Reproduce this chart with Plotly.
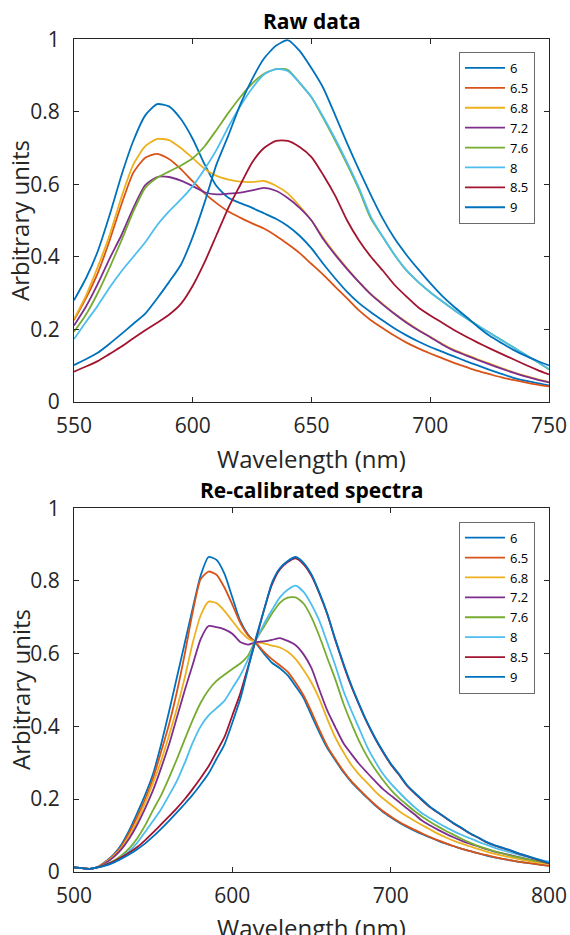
import plotly.graph_objects as go

# Wavelength grids (nm)
raw_wavelength = list(range(550, 751, 5))
cal_wavelength = list(range(500, 801, 5))

ph_labels = ["6", "6.5", "6.8", "7.2", "7.6", "8", "8.5", "9"]
ph_colors = ["#0072BD", "#D95319", "#EDB120", "#7E2F8E",
             "#77AC30", "#4DBEEE", "#A2142F", "#0072BD"]

# Raw spectra, 550-750 nm in 5 nm steps
raw_6 = [0.280, 0.340, 0.415, 0.515, 0.625, 0.720, 0.790, 0.821, 0.815, 0.780,
         0.725, 0.655, 0.595, 0.563, 0.548, 0.535, 0.520, 0.505, 0.485, 0.458,
         0.423, 0.380, 0.340, 0.303, 0.272, 0.247, 0.224, 0.202, 0.183, 0.166,
         0.151, 0.138, 0.125, 0.112, 0.100, 0.088, 0.077, 0.066, 0.058, 0.051,
         0.045]
raw_6_5 = [0.225, 0.285, 0.355, 0.445, 0.545, 0.632, 0.673, 0.684, 0.670, 0.642,
           0.608, 0.575, 0.548, 0.525, 0.508, 0.492, 0.478, 0.458, 0.435, 0.410,
           0.380, 0.350, 0.317, 0.285, 0.252, 0.225, 0.203, 0.182, 0.163, 0.147,
           0.133, 0.120, 0.107, 0.096, 0.085, 0.076, 0.067, 0.060, 0.053, 0.047,
           0.042]
raw_6_8 = [0.228, 0.292, 0.372, 0.460, 0.565, 0.655, 0.705, 0.725, 0.722, 0.700,
           0.672, 0.643, 0.623, 0.613, 0.607, 0.606, 0.609, 0.596, 0.575, 0.540,
           0.500, 0.452, 0.408, 0.368, 0.330, 0.297, 0.270, 0.243, 0.220, 0.198,
           0.179, 0.160, 0.143, 0.130, 0.117, 0.105, 0.093, 0.081, 0.071, 0.062,
           0.054]
raw_7_2 = [0.210, 0.262, 0.325, 0.395, 0.460, 0.535, 0.598, 0.620, 0.620, 0.610,
           0.595, 0.578, 0.572, 0.574, 0.577, 0.583, 0.590, 0.582, 0.562, 0.535,
           0.500, 0.448, 0.405, 0.366, 0.330, 0.296, 0.268, 0.242, 0.218, 0.197,
           0.178, 0.158, 0.141, 0.128, 0.115, 0.103, 0.091, 0.080, 0.070, 0.061,
           0.053]
raw_7_6 = [0.193, 0.240, 0.300, 0.370, 0.445, 0.525, 0.590, 0.618, 0.635, 0.652,
           0.672, 0.705, 0.750, 0.797, 0.840, 0.878, 0.905, 0.918, 0.916, 0.880,
           0.840, 0.782, 0.720, 0.655, 0.585, 0.505, 0.455, 0.405, 0.362, 0.330,
           0.302, 0.277, 0.253, 0.231, 0.210, 0.190, 0.170, 0.150, 0.130, 0.110,
           0.089]
raw_8 = [0.173, 0.220, 0.265, 0.315, 0.360, 0.400, 0.440, 0.487, 0.525, 0.558,
         0.595, 0.642, 0.695, 0.758, 0.815, 0.865, 0.903, 0.918, 0.913, 0.880,
         0.840, 0.785, 0.725, 0.660, 0.590, 0.510, 0.455, 0.405, 0.363, 0.330,
         0.302, 0.277, 0.253, 0.231, 0.210, 0.190, 0.170, 0.150, 0.130, 0.110,
         0.090]
raw_8_5 = [0.083, 0.097, 0.112, 0.132, 0.152, 0.175, 0.197, 0.218, 0.240, 0.270,
           0.320, 0.385, 0.460, 0.535, 0.598, 0.660, 0.700, 0.720, 0.720, 0.703,
           0.675, 0.625, 0.568, 0.500, 0.445, 0.400, 0.362, 0.322, 0.290, 0.260,
           0.238, 0.218, 0.198, 0.180, 0.163, 0.147, 0.132, 0.117, 0.102, 0.088,
           0.075]
raw_9 = [0.101, 0.117, 0.135, 0.160, 0.187, 0.215, 0.243, 0.285, 0.330, 0.378,
         0.455, 0.550, 0.655, 0.735, 0.820, 0.890, 0.947, 0.982, 0.998, 0.968,
         0.920, 0.865, 0.790, 0.713, 0.640, 0.570, 0.505, 0.450, 0.405, 0.365,
         0.327, 0.292, 0.262, 0.235, 0.207, 0.182, 0.162, 0.143, 0.127, 0.113,
         0.100]

# Re-calibrated spectra, 500-800 nm in 5 nm steps
cal_6 = [0.012, 0.010, 0.008, 0.013, 0.028, 0.047, 0.075, 0.115, 0.162, 0.212,
         0.270, 0.350, 0.440, 0.535, 0.630, 0.725, 0.815, 0.866, 0.858, 0.820,
         0.755, 0.690, 0.652, 0.628, 0.600, 0.575, 0.560, 0.540, 0.510, 0.478,
         0.430, 0.383, 0.340, 0.307, 0.275, 0.248, 0.225, 0.204, 0.183, 0.165,
         0.150, 0.136, 0.124, 0.113, 0.103, 0.094, 0.085, 0.077, 0.070, 0.063,
         0.057, 0.051, 0.045, 0.040, 0.036, 0.032, 0.028, 0.025, 0.022, 0.019,
         0.017]
cal_6_5 = [0.012, 0.010, 0.008, 0.013, 0.027, 0.045, 0.070, 0.108, 0.152, 0.200,
           0.258, 0.330, 0.405, 0.495, 0.600, 0.715, 0.805, 0.826, 0.817, 0.782,
           0.735, 0.685, 0.650, 0.630, 0.605, 0.585, 0.568, 0.550, 0.520, 0.485,
           0.440, 0.390, 0.345, 0.310, 0.278, 0.250, 0.227, 0.205, 0.185, 0.167,
           0.152, 0.138, 0.126, 0.115, 0.105, 0.095, 0.086, 0.078, 0.070, 0.063,
           0.057, 0.051, 0.046, 0.041, 0.036, 0.032, 0.028, 0.025, 0.022, 0.019,
           0.016]
cal_6_8 = [0.012, 0.010, 0.008, 0.013, 0.026, 0.043, 0.066, 0.100, 0.140, 0.190,
           0.245, 0.305, 0.375, 0.450, 0.535, 0.630, 0.705, 0.743, 0.739, 0.718,
           0.690, 0.662, 0.642, 0.632, 0.628, 0.622, 0.617, 0.605, 0.585, 0.555,
           0.520, 0.475, 0.420, 0.370, 0.330, 0.295, 0.268, 0.245, 0.222, 0.202,
           0.185, 0.168, 0.153, 0.140, 0.128, 0.116, 0.104, 0.094, 0.085, 0.077,
           0.070, 0.063, 0.056, 0.050, 0.045, 0.040, 0.035, 0.031, 0.027, 0.024,
           0.021]
cal_7_2 = [0.012, 0.010, 0.008, 0.013, 0.024, 0.040, 0.062, 0.092, 0.130, 0.175,
           0.225, 0.285, 0.350, 0.425, 0.500, 0.570, 0.640, 0.676, 0.673, 0.667,
           0.655, 0.632, 0.625, 0.632, 0.634, 0.638, 0.643, 0.635, 0.623, 0.598,
           0.560, 0.500, 0.443, 0.398, 0.355, 0.325, 0.297, 0.273, 0.250, 0.228,
           0.210, 0.193, 0.175, 0.158, 0.140, 0.127, 0.115, 0.104, 0.094, 0.085,
           0.077, 0.070, 0.063, 0.056, 0.051, 0.046, 0.041, 0.036, 0.032, 0.028,
           0.025]
cal_7_6 = [0.012, 0.010, 0.008, 0.012, 0.020, 0.030, 0.045, 0.065, 0.092, 0.128,
           0.170, 0.210, 0.258, 0.310, 0.365, 0.418, 0.465, 0.500, 0.525, 0.542,
           0.558, 0.573, 0.595, 0.640, 0.674, 0.710, 0.740, 0.754, 0.755, 0.738,
           0.700, 0.648, 0.588, 0.530, 0.465, 0.410, 0.360, 0.318, 0.283, 0.253,
           0.226, 0.204, 0.185, 0.167, 0.151, 0.137, 0.124, 0.112, 0.101, 0.090,
           0.080, 0.071, 0.064, 0.057, 0.051, 0.045, 0.040, 0.036, 0.031, 0.028,
           0.024]
cal_8 = [0.012, 0.010, 0.008, 0.012, 0.019, 0.027, 0.040, 0.057, 0.080, 0.110,
         0.140, 0.172, 0.210, 0.250, 0.300, 0.355, 0.400, 0.430, 0.450, 0.470,
         0.505, 0.540, 0.585, 0.637, 0.682, 0.720, 0.755, 0.776, 0.787, 0.770,
         0.735, 0.690, 0.630, 0.568, 0.500, 0.445, 0.395, 0.345, 0.305, 0.270,
         0.243, 0.220, 0.198, 0.178, 0.160, 0.147, 0.134, 0.122, 0.111, 0.101,
         0.092, 0.083, 0.075, 0.067, 0.060, 0.054, 0.048, 0.042, 0.037, 0.032,
         0.028]
cal_8_5 = [0.012, 0.010, 0.008, 0.012, 0.019, 0.028, 0.040, 0.053, 0.068, 0.087,
           0.108, 0.130, 0.152, 0.175, 0.200, 0.228, 0.258, 0.290, 0.330, 0.370,
           0.430, 0.490, 0.565, 0.640, 0.720, 0.790, 0.832, 0.852, 0.862, 0.846,
           0.814, 0.765, 0.708, 0.638, 0.572, 0.512, 0.460, 0.411, 0.368, 0.330,
           0.296, 0.268, 0.238, 0.216, 0.196, 0.177, 0.162, 0.147, 0.132, 0.119,
           0.105, 0.094, 0.082, 0.073, 0.066, 0.059, 0.051, 0.044, 0.037, 0.030,
           0.023]
cal_9 = [0.012, 0.010, 0.008, 0.012, 0.017, 0.025, 0.036, 0.048, 0.062, 0.078,
         0.097, 0.118, 0.140, 0.163, 0.187, 0.212, 0.240, 0.270, 0.310, 0.350,
         0.410, 0.475, 0.560, 0.645, 0.720, 0.795, 0.835, 0.855, 0.866, 0.850,
         0.818, 0.768, 0.710, 0.640, 0.575, 0.515, 0.462, 0.413, 0.370, 0.332,
         0.298, 0.270, 0.240, 0.218, 0.198, 0.178, 0.163, 0.148, 0.133, 0.120,
         0.106, 0.095, 0.083, 0.074, 0.067, 0.060, 0.052, 0.045, 0.038, 0.031,
         0.024]

raw_series = [raw_6, raw_6_5, raw_6_8, raw_7_2, raw_7_6, raw_8, raw_8_5, raw_9]
cal_series = [cal_6, cal_6_5, cal_6_8, cal_7_2, cal_7_6, cal_8, cal_8_5, cal_9]

W, H = 570, 935
FONT = "Open Sans"
INK = "#262626"

fig = go.Figure()

for label, color, ys in zip(ph_labels, ph_colors, raw_series):
    fig.add_trace(go.Scatter(
        x=raw_wavelength, y=ys, name=label, mode="lines",
        line=dict(color=color, width=1.8, shape="spline", smoothing=0.6),
        xaxis="x", yaxis="y", legend="legend"))

for label, color, ys in zip(ph_labels, ph_colors, cal_series):
    fig.add_trace(go.Scatter(
        x=cal_wavelength, y=ys, name=label, mode="lines",
        line=dict(color=color, width=1.8, shape="spline", smoothing=0.6),
        xaxis="x2", yaxis="y2", legend="legend2"))


def px_x(p):
    return p / W


def px_y(p):
    return 1 - p / H


axis_common = dict(
    ticks="inside", ticklen=5, tickwidth=1, tickcolor=INK,
    showline=True, linecolor=INK, linewidth=1, mirror="ticks",
    showgrid=False, zeroline=False, automargin=False,
    tickfont=dict(family=FONT, size=21, color=INK),
)
x_axis_extra = dict(ticklabelstandoff=5)
y_axis_extra = dict(ticklabelstandoff=9)

x_dom = [px_x(74), px_x(549)]
legend_common = dict(
    xanchor="left", yanchor="top",
    bgcolor="white", bordercolor="#6b6b6b", borderwidth=1,
    font=dict(family=FONT, size=13, color="#000000"),
    itemwidth=40, tracegroupgap=0,
)

fig.update_layout(
    width=W, height=H, autosize=False,
    margin=dict(l=0, r=0, t=0, b=0, pad=0, autoexpand=False),
    paper_bgcolor="white", plot_bgcolor="white",
    showlegend=True,
    xaxis=dict(domain=x_dom, range=[550, 750], tick0=550, dtick=50,
               anchor="y", **axis_common, **x_axis_extra),
    yaxis=dict(domain=[px_y(401.7), px_y(39.3)], range=[0, 1], dtick=0.2,
               anchor="x", **axis_common, **y_axis_extra),
    xaxis2=dict(domain=x_dom, range=[500, 800], tick0=500, dtick=100,
                anchor="y2", **axis_common, **x_axis_extra),
    yaxis2=dict(domain=[px_y(871.7), px_y(508.3)], range=[0, 1], dtick=0.2,
                anchor="x2", **axis_common, **y_axis_extra),
    legend=dict(x=px_x(459), y=px_y(52), **legend_common),
    legend2=dict(x=px_x(459), y=px_y(521.7), **legend_common),
)

title_font = dict(family=FONT, size=21, color="#000000")
label_font = dict(family=FONT, size=24, color=INK)
cx = px_x((74 + 549) / 2)

annotations = [
    dict(text="<b>Raw data</b>", x=cx, y=px_y(20.7), font=title_font),
    dict(text="<b>Re-calibrated spectra</b>", x=cx, y=px_y(490), font=title_font),
    dict(text="Wavelength (nm)", x=cx, y=px_y(458), font=label_font),
    dict(text="Wavelength (nm)", x=cx, y=px_y(927), font=label_font),
    dict(text="Arbitrary units", x=px_x(20), y=px_y(221), font=label_font,
         textangle=-90),
    dict(text="Arbitrary units", x=px_x(20), y=px_y(690), font=label_font,
         textangle=-90),
]
for a in annotations:
    a.update(xref="paper", yref="paper", showarrow=False,
             xanchor="center", yanchor="middle")
fig.update_layout(annotations=annotations)

fig.write_html("out.html")
